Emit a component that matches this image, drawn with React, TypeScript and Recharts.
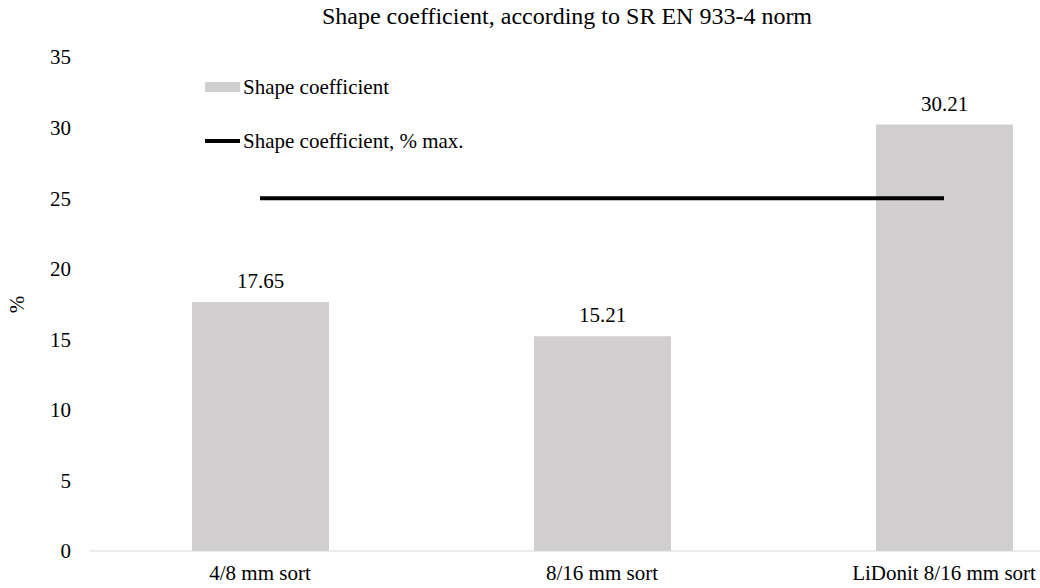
import React from 'react';
import { ComposedChart, Bar, Line, XAxis, YAxis, LabelList } from 'recharts';

const categories = ['4/8 mm sort', '8/16 mm sort', 'LiDonit 8/16 mm sort'];
const shapeCoefficient = [17.65, 15.21, 30.21];
const shapeMax = [25, 25, 25];
const yTicks = [0, 5, 10, 15, 20, 25, 30, 35];

const TITLE = 'Shape coefficient, according to SR EN 933-4 norm';
const BAR_NAME = 'Shape coefficient';
const LINE_NAME = 'Shape coefficient, % max.';

const FONT = '"Liberation Serif", "Times New Roman", serif';
const BAR_COLOR = '#d0cece';

const data = categories.map((name, i) => ({
  name,
  coef: shapeCoefficient[i],
  max: shapeMax[i],
}));

function LegendBox() {
  return (
    <div
      style={{
        position: 'absolute',
        left: 205,
        top: 73,
        fontFamily: FONT,
        fontSize: 21,
        color: '#000',
        whiteSpace: 'nowrap',
      }}
    >
      <div style={{ display: 'flex', alignItems: 'center', height: 28 }}>
        <span style={{ display: 'inline-block', width: 35, height: 10, background: BAR_COLOR, marginRight: 3 }} />
        <span>{BAR_NAME}</span>
      </div>
      <div style={{ display: 'flex', alignItems: 'center', height: 28, marginTop: 26 }}>
        <span style={{ display: 'inline-block', width: 35, height: 4, background: '#000', marginRight: 3 }} />
        <span>{LINE_NAME}</span>
      </div>
    </div>
  );
}

export default function App() {
  return (
    <div style={{ position: 'absolute', left: 0, top: 0, width: 1040, height: 588, overflow: 'hidden', background: '#fff' }}>
      <ComposedChart
        width={1138}
        height={588}
        data={data}
        margin={{ top: 57, right: 23, bottom: 0, left: 0 }}
        style={{ fontFamily: FONT }}
      >
        <XAxis
          dataKey="name"
          height={37}
          axisLine={{ stroke: '#d9d9d9', strokeWidth: 1 }}
          tickLine={false}
          tickSize={0}
          tickMargin={14}
          tick={{ fill: '#000', fontSize: 21, fontFamily: FONT }}
          interval={0}
        />
        <YAxis
          width={89}
          domain={[0, 35]}
          ticks={yTicks}
          axisLine={false}
          tickLine={false}
          tickSize={0}
          tickMargin={18}
          tick={{ fill: '#000', fontSize: 21, fontFamily: FONT }}
        />
        <Bar dataKey="coef" name={BAR_NAME} fill={BAR_COLOR} barSize={137} isAnimationActive={false}>
          <LabelList
            dataKey="coef"
            position="top"
            offset={14}
            style={{ fill: '#000', fontSize: 21, fontFamily: FONT }}
            formatter={(v: number) => v.toFixed(2)}
          />
        </Bar>
        <Line
          dataKey="max"
          name={LINE_NAME}
          stroke="#000"
          strokeWidth={4}
          dot={false}
          activeDot={false}
          isAnimationActive={false}
        />
      </ComposedChart>
      <div
        style={{
          position: 'absolute',
          left: 0,
          width: 1134,
          top: 3,
          textAlign: 'center',
          fontFamily: FONT,
          fontSize: 24,
          color: '#000',
          whiteSpace: 'nowrap',
        }}
      >
        {TITLE}
      </div>
      <div
        style={{
          position: 'absolute',
          left: 9,
          top: 292,
          fontFamily: FONT,
          fontSize: 21,
          transform: 'rotate(-90deg)',
          color: '#000',
        }}
      >
        %
      </div>
      <LegendBox />
    </div>
  );
}
